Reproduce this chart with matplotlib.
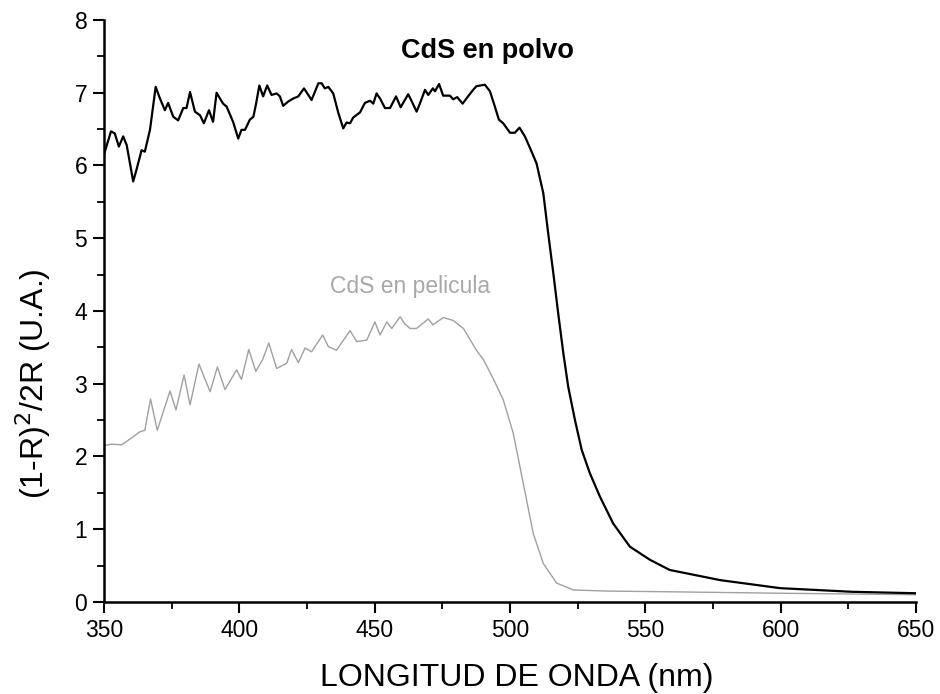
import matplotlib
matplotlib.use("Agg")
import matplotlib.pyplot as plt
from matplotlib.ticker import MultipleLocator

plt.rcParams['font.family'] = ['Liberation Sans', 'DejaVu Sans']

# CdS en polvo (black)
wl_polvo = [350, 352.6, 354, 355.5, 357.1, 358.4, 360.8, 362, 363.9, 365.1,
            367, 369.1, 370.7, 372.5, 373.7, 375.6, 377.4, 379.3, 380.5, 381.8,
            383.6, 385.5, 386.9, 388.8, 390.3, 391.6, 394, 395.3, 397.7, 399.6,
            400.8, 402.1, 403.9, 405.2, 406.2, 407.4, 408.8, 410.3, 411.9, 413.8,
            415, 416.2, 418.1, 419.9, 421.8, 423.9, 426.7, 429.2, 430.4, 431.6,
            432.9, 434.7, 436.6, 438.4, 439.6, 440.9, 442.1, 444.6, 446.4, 448.3,
            449.5, 450.7, 452, 453.8, 455.7, 457.9, 459.6, 462.4, 463.6, 465.5,
            466.7, 468.6, 469.8, 471.5, 472.3, 473.8, 475.3, 477.8, 479, 480.5,
            482.5, 484.5, 486.4, 487.6, 490.7, 492.6, 494.4, 495.9, 497.5, 500,
            501.8, 503.5, 505.5, 507.4, 509.8, 512.3, 514.1, 516, 517.8, 519.7,
            521.5, 524, 526.5, 529.5, 533.2, 538.1, 544.3, 551.7, 559, 577.7,
            599.8, 626.3, 650]
val_polvo = [6.15, 6.47, 6.44, 6.26, 6.40, 6.28, 5.78, 5.94, 6.21, 6.19,
             6.49, 7.08, 6.92, 6.76, 6.86, 6.67, 6.62, 6.79, 6.79, 7.01,
             6.74, 6.69, 6.58, 6.76, 6.60, 7.00, 6.85, 6.81, 6.60, 6.37,
             6.49, 6.49, 6.63, 6.67, 6.85, 7.10, 6.95, 7.10, 6.97, 6.99,
             6.95, 6.82, 6.88, 6.92, 6.95, 7.06, 6.90, 7.13, 7.13, 7.06,
             7.08, 6.99, 6.72, 6.51, 6.59, 6.58, 6.66, 6.73, 6.86, 6.89,
             6.85, 6.99, 6.92, 6.79, 6.79, 6.95, 6.80, 6.98, 6.89, 6.74,
             6.85, 7.04, 6.97, 7.06, 7.02, 7.12, 6.96, 6.96, 6.91, 6.94,
             6.85, 6.95, 7.04, 7.09, 7.11, 7.02, 6.81, 6.63, 6.58, 6.45,
             6.45, 6.52, 6.40, 6.24, 6.03, 5.62, 5.07, 4.52, 3.97, 3.42,
             2.96, 2.50, 2.09, 1.77, 1.45, 1.08, 0.76, 0.58, 0.44, 0.30,
             0.19, 0.14, 0.12]

# CdS en pelicula (gray)
wl_pel = [350, 352.8, 356.5, 360.8, 363.3, 365.1, 367.2, 369.7, 374.4, 376.6,
          379.6, 381.8, 385.1, 389.2, 391.9, 394.7, 399, 400.8, 403.5, 406.1,
          408.6, 410.9, 413.8, 417.5, 419.3, 421.8, 424.3, 426.7, 430.8, 432.9,
          435.9, 440.9, 443.4, 447.1, 450.1, 452, 454.5, 456.3, 459.4, 461.2,
          463.1, 465.5, 469.8, 471.5, 475.4, 479, 482.8, 487.6, 490.2, 493.8,
          497.5, 501.2, 504.9, 508.6, 512.3, 517.2, 523.4, 535.7, 559, 600,
          650]
val_pel = [2.15, 2.17, 2.16, 2.27, 2.34, 2.36, 2.79, 2.36, 2.90, 2.64,
           3.12, 2.71, 3.27, 2.89, 3.23, 2.92, 3.19, 3.06, 3.47, 3.17,
           3.33, 3.56, 3.21, 3.28, 3.47, 3.29, 3.49, 3.44, 3.67, 3.51,
           3.46, 3.73, 3.58, 3.60, 3.85, 3.67, 3.85, 3.76, 3.92, 3.82,
           3.76, 3.76, 3.89, 3.81, 3.91, 3.87, 3.76, 3.46, 3.33, 3.07,
           2.78, 2.32, 1.63, 0.94, 0.53, 0.26, 0.165, 0.15, 0.14, 0.12,
           0.10]

x_ticks = [350, 400, 450, 500, 550, 600, 650]
y_ticks = [0, 1, 2, 3, 4, 5, 6, 7, 8]

fig = plt.figure(figsize=(9.4, 6.94), dpi=100)
ax = fig.add_axes([0.1106, 0.1326, 0.8639, 0.8386])

ax.plot(wl_pel, val_pel, color='#a0a0a0', lw=1.0)
ax.plot(wl_polvo, val_polvo, color='black', lw=1.6)

ax.set_xlim(350, 650)
ax.set_ylim(0, 8)
ax.set_xticks(x_ticks)
ax.set_yticks(y_ticks)
ax.xaxis.set_minor_locator(MultipleLocator(25))
ax.yaxis.set_minor_locator(MultipleLocator(0.5))

for s in ['top', 'right']:
    ax.spines[s].set_visible(False)
for s in ['left', 'bottom']:
    ax.spines[s].set_linewidth(1.8)
ax.tick_params(which='major', direction='out', length=8, width=1.5, labelsize=16.5, pad=4)
ax.tick_params(which='minor', direction='out', length=5, width=1.3)

ax.set_xlabel('LONGITUD DE ONDA (nm)', fontsize=23)
ax.xaxis.set_label_coords(0.508, -0.104)
ax.set_ylabel('(1-R)$^2$/2R (U.A.)', fontsize=23)
ax.yaxis.set_label_coords(-0.063, 0.375)

ax.text(491.5, 7.58, 'CdS en polvo', fontsize=19.5, fontweight='bold', ha='center', va='center')
ax.text(463, 4.33, 'CdS en pelicula', fontsize=16.5, color='#a8a8a8', ha='center', va='center')

fig.savefig('out.png', dpi=100)
